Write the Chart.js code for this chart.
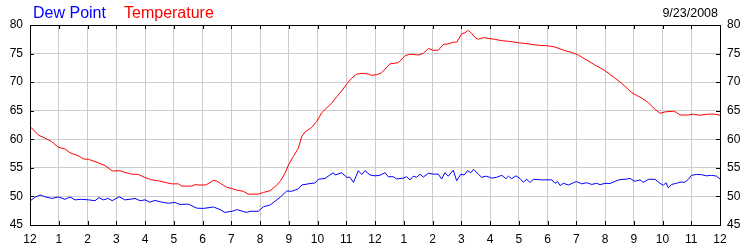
<!DOCTYPE html>
<html>
<head>
<meta charset="utf-8">
<script src="https://cdn.jsdelivr.net/npm/chart.js@4/dist/chart.umd.min.js"></script>
<style>
html,body{margin:0;padding:0;background:#fff;}
#wrap{width:750px;height:250px;position:relative;}
</style>
</head>
<body>
<div id="wrap"><canvas id="c" width="750" height="250"></canvas></div>
<script>
const chartDate = '9/23/2008';
const seriesNames = ['Dew Point', 'Temperature'];
const hourLabels = ['12','1','2','3','4','5','6','7','8','9','10','11','12','1','2','3','4','5','6','7','8','9','10','11','12'];
const yTicks = [45, 50, 55, 60, 65, 70, 75, 80];

const tempHours = [0.0,0.05,0.29,0.52,0.75,0.99,1.22,1.39,1.68,1.86,2.03,2.26,2.61,2.86,3.13,3.30,3.54,3.77,4.0,4.23,4.46,4.70,4.93,5.16,5.28,5.62,5.74,5.91,6.09,6.15,6.38,6.49,6.72,6.84,7.01,7.19,7.42,7.59,7.94,8.12,8.35,8.52,8.70,8.87,8.99,9.16,9.33,9.45,9.57,9.80,9.97,10.15,10.32,10.49,10.67,10.84,11.02,11.19,11.36,11.59,11.77,11.88,12.06,12.23,12.52,12.81,13.04,13.22,13.51,13.68,13.86,14.03,14.20,14.38,14.55,14.72,14.84,15.01,15.13,15.25,15.36,15.48,15.59,15.77,16.0,16.17,16.41,16.64,16.99,17.33,17.68,18.03,18.26,18.61,18.84,19.07,19.30,19.65,20.0,20.35,20.58,20.93,21.28,21.51,21.74,21.91,22.09,22.38,22.49,22.61,22.90,23.07,23.30,23.59,23.83,24.0];
const tempValues = [61.8,62.0,60.75,60.2,59.6,58.6,58.3,57.65,57.1,56.55,56.5,56.1,55.4,54.45,54.5,54.2,53.9,53.85,53.3,52.9,52.75,52.45,52.2,52.2,51.8,51.8,52.05,52.0,52.0,52.1,52.8,52.7,52.0,51.6,51.4,51.1,50.9,50.4,50.4,50.7,51.0,51.7,52.6,54.05,55.5,57.0,58.4,60.45,61.3,62.1,63.1,64.65,65.5,66.3,67.45,68.45,69.7,70.7,71.4,71.55,71.4,71.2,71.3,71.65,73.2,73.4,74.6,74.9,74.75,75.05,75.9,75.55,75.6,76.6,76.7,77.0,77.0,78.4,78.65,79.05,78.55,77.8,77.5,77.8,77.6,77.5,77.25,77.15,76.9,76.7,76.45,76.35,76.15,75.5,75.2,74.75,74.05,73.0,72.0,70.7,69.8,68.15,67.2,66.4,65.25,64.55,64.8,64.9,64.7,64.25,64.25,64.4,64.2,64.4,64.4,64.2];

const dewHours = [0.0,0.17,0.35,0.52,0.75,0.99,1.22,1.39,1.57,1.80,2.03,2.26,2.40,2.55,2.72,2.86,3.10,3.30,3.48,3.65,3.83,4.0,4.17,4.35,4.58,4.81,5.04,5.22,5.51,5.80,6.03,6.38,6.61,6.78,7.07,7.19,7.54,7.65,7.94,8.12,8.35,8.70,8.93,9.10,9.33,9.45,9.74,9.91,10.03,10.26,10.43,10.55,10.61,10.84,11.02,11.13,11.25,11.42,11.54,11.65,11.83,12.0,12.17,12.35,12.46,12.64,12.75,12.99,13.1,13.22,13.33,13.45,13.57,13.68,13.86,14.03,14.2,14.32,14.43,14.55,14.72,14.84,14.99,15.1,15.22,15.33,15.43,15.59,15.71,15.88,16.06,16.23,16.41,16.55,16.64,16.75,16.9,17.04,17.16,17.28,17.39,17.51,17.8,18.15,18.26,18.35,18.44,18.55,18.73,18.9,19.01,19.19,19.36,19.54,19.71,19.83,20.0,20.17,20.35,20.52,20.70,20.87,21.04,21.22,21.33,21.51,21.74,21.91,22.03,22.12,22.2,22.32,22.49,22.61,22.78,22.9,23.01,23.19,23.36,23.54,23.71,23.88,24.0];
const dewValues = [49.2,49.85,50.25,49.95,49.65,49.9,49.5,49.9,49.4,49.5,49.4,49.25,49.8,49.4,49.65,49.25,49.95,49.4,49.5,49.65,49.25,49.4,49.0,49.3,49.0,48.8,48.95,48.6,48.65,47.95,47.9,48.15,47.7,47.2,47.45,47.7,47.2,47.4,47.4,48.2,48.5,49.85,50.95,50.9,51.3,52.0,52.25,52.35,53.0,53.15,53.75,54.15,53.75,54.15,53.35,53.35,52.45,54.5,53.85,54.5,53.75,53.6,53.7,54.15,53.45,53.45,53.05,53.2,53.45,52.9,53.55,53.35,53.9,53.4,54.05,53.9,53.9,53.05,54.15,53.55,54.6,52.75,53.9,53.75,54.5,54.15,54.75,53.9,53.35,53.55,53.2,53.35,53.7,53.1,53.55,53.1,53.6,53.15,52.5,53.0,52.45,53.0,52.9,52.9,52.3,52.6,51.9,52.3,52.0,52.4,52.6,52.2,52.4,52.1,52.3,52.05,52.3,52.25,52.65,52.95,53.0,53.15,52.65,52.9,52.45,53.0,53.0,52.3,51.95,52.4,51.5,52.1,52.3,52.5,52.5,53.0,53.7,53.85,53.8,53.6,53.7,53.55,53.05];

const FONT = '"Liberation Sans", Arial, sans-serif';

const framePlugin = {
  id: 'frame',
  afterDraw(chart) {
    const ctx = chart.ctx, a = chart.chartArea;
    const xs = chart.scales.x, ys = chart.scales.y;
    ctx.save();
    ctx.strokeStyle = '#000';
    ctx.lineWidth = 1;
    ctx.beginPath();
    // inside tick marks
    xs.ticks.forEach(t => {
      const px = Math.round(xs.getPixelForValue(t.value)) + 0.5;
      ctx.moveTo(px, a.top); ctx.lineTo(px, a.top + 4);
      ctx.moveTo(px, a.bottom); ctx.lineTo(px, a.bottom - 4);
    });
    ys.ticks.forEach(t => {
      const py = Math.round(ys.getPixelForValue(t.value)) + 0.5;
      ctx.moveTo(a.left, py); ctx.lineTo(a.left + 4, py);
      ctx.moveTo(a.right, py); ctx.lineTo(a.right - 4, py);
    });
    ctx.stroke();
    ctx.strokeRect(Math.round(a.left) + 0.5, Math.round(a.top) + 0.5, Math.round(a.right - a.left), Math.round(a.bottom - a.top));
    // header texts
    ctx.textBaseline = 'alphabetic';
    ctx.font = '16px ' + FONT;
    ctx.textAlign = 'left';
    ctx.fillStyle = chart.data.datasets[0].borderColor;
    ctx.fillText(chart.data.datasets[0].label, 33, 18);
    ctx.fillStyle = chart.data.datasets[1].borderColor;
    ctx.fillText(chart.data.datasets[1].label, 124, 18);
    ctx.font = '12.5px ' + FONT;
    ctx.fillStyle = '#000';
    ctx.textAlign = 'right';
    ctx.fillText(chartDate, 718, 17);
    ctx.restore();
  }
};

const toPoints = (hs, vs) => hs.map((h, i) => ({x: h, y: vs[i]}));

new Chart(document.getElementById('c'), {
  type: 'line',
  data: {
    datasets: [
      {label: seriesNames[0], data: toPoints(dewHours, dewValues), borderColor: '#0000ff', borderWidth: 1, pointRadius: 0, tension: 0, yAxisID: 'y'},
      {label: seriesNames[1], data: toPoints(tempHours, tempValues), borderColor: '#ff0000', borderWidth: 1, pointRadius: 0, tension: 0, yAxisID: 'y'}
    ]
  },
  options: {
    responsive: false,
    animation: false,
    events: [],
    layout: {padding: {top: 25, left: 0, right: 0, bottom: 0}},
    plugins: {legend: {display: false}, tooltip: {enabled: false}, title: {display: false}},
    scales: {
      x: {
        type: 'linear', min: 0, max: 24,
        border: {display: false},
        grid: {color: '#cccccc', lineWidth: 1, drawTicks: false},
        ticks: {stepSize: 1, autoSkip: false, maxRotation: 0, padding: 7, color: '#000',
                font: {family: FONT, size: 12},
                callback: (v) => hourLabels[v]},
        afterFit: (s) => { s.height = 25; }
      },
      y: {
        position: 'left', min: 45, max: 80,
        border: {display: false},
        grid: {color: '#cccccc', lineWidth: 1, drawTicks: false},
        afterBuildTicks: (s) => { s.ticks = yTicks.map(v => ({value: v})); },
        ticks: {padding: 7, color: '#000', font: {family: FONT, size: 12}},
        afterFit: (s) => { s.width = 30; }
      },
      y2: {
        position: 'right', min: 45, max: 80,
        border: {display: false},
        grid: {display: false, drawTicks: false},
        afterBuildTicks: (s) => { s.ticks = yTicks.map(v => ({value: v})); },
        ticks: {padding: 7, color: '#000', font: {family: FONT, size: 12}},
        afterFit: (s) => { s.width = 30; }
      }
    }
  },
  plugins: [framePlugin]
});
</script>
</body>
</html>
